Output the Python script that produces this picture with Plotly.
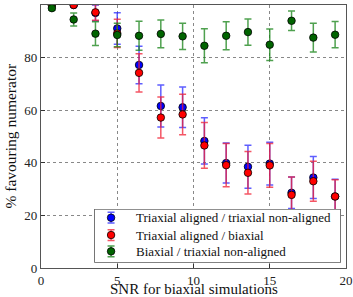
import plotly.graph_objects as go

snr = [0.714, 2.143, 3.571, 5.0, 6.429, 7.857, 9.286, 10.714, 12.143, 13.571, 15.0, 16.429, 17.857, 19.286]

blue_y = [100, 100, 97.0, 91.1, 77.2, 61.6, 61.1, 48.3, 39.9, 38.5, 39.7, 28.6, 34.4, 27.2]
blue_err = [0, 0, 3.0, 6.0, 7.1, 8.0, 7.7, 8.8, 7.6, 8.2, 8.1, 6.0, 8.0, 6.5]

red_y = [100, 100, 97.2, 89.2, 74.2, 57.2, 58.4, 46.6, 39.1, 36.2, 39.0, 27.8, 33.0, 27.2]
red_err = [0, 0, 3.0, 5.4, 7.3, 7.8, 7.7, 8.7, 8.2, 8.1, 8.3, 6.8, 7.6, 6.4]

green_y = [98.8, 94.5, 89.1, 88.6, 88.3, 89.0, 88.1, 84.5, 88.3, 89.7, 84.9, 94.0, 87.6, 88.7]
green_err = [0.8, 2.5, 4.5, 4.5, 5.5, 5.3, 5.0, 6.5, 5.3, 5.0, 6.0, 3.7, 5.5, 5.0]

names = ["Triaxial aligned / triaxial non-aligned",
         "Triaxial aligned / biaxial",
         "Biaxial / triaxial non-aligned"]

x_ticks = [0, 5, 10, 15, 20]
y_ticks = [0, 20, 40, 60, 80, 100]

font_family = "Liberation Serif"

marker_cols = ["#0000ff", "#ff0000", "#006400"]
err_cols = ["rgba(40,40,255,0.75)", "rgba(240,30,50,0.75)", "rgba(20,130,20,0.75)"]

# legend layout (box-normalised positions on a small inset axis)
legend_rows = [0.838, 0.516, 0.212]
legend_marker_x = 0.068
legend_text_x = 0.160
legend_err = 0.10

fig = go.Figure()
for ys, errs, mcol, ecol, nm in zip([blue_y, red_y, green_y],
                                    [blue_err, red_err, green_err],
                                    marker_cols, err_cols, names):
    fig.add_trace(go.Scatter(
        x=snr, y=ys, mode="markers", name=nm, showlegend=False,
        marker=dict(color=mcol, size=7.5, line=dict(color="#000000", width=0.8)),
        error_y=dict(type="data", array=errs, visible=True, color=ecol,
                     thickness=1.5, width=3.5),
    ))

# custom legend on an inset axis
fig.add_trace(go.Scatter(
    x=[0, 1, 1, 0, 0], y=[0, 0, 1, 1, 0], xaxis="x2", yaxis="y2",
    mode="lines", fill="toself", fillcolor="white",
    line=dict(color="#222222", width=1.2), cliponaxis=False,
    showlegend=False, hoverinfo="skip",
))
annotations = []
for i, nm in enumerate(names):
    fig.add_trace(go.Scatter(
        x=[legend_marker_x], y=[legend_rows[i]], xaxis="x2", yaxis="y2",
        mode="markers", showlegend=False, hoverinfo="skip", cliponaxis=False,
        marker=dict(color=marker_cols[i], size=7.5, line=dict(color="#000000", width=0.8)),
        error_y=dict(type="data", array=[legend_err], visible=True,
                     color=err_cols[i], thickness=1.5, width=3.5),
    ))
    annotations.append(dict(
        text=nm, xref="x2", yref="y2", x=legend_text_x, y=legend_rows[i],
        xanchor="left", yanchor="middle", showarrow=False,
        font=dict(family=font_family, size=13, color="#111111")))

annotations += [
    dict(text="SNR for biaxial simulations", xref="paper", yref="paper",
         x=0.5, y=0, xanchor="center", yanchor="middle", yshift=-21,
         showarrow=False, font=dict(family=font_family, size=15, color="#111111")),
    dict(text="% favouring numerator", xref="paper", yref="paper",
         x=0, y=0.5, xanchor="center", yanchor="middle", xshift=-31,
         textangle=-90, showarrow=False,
         font=dict(family=font_family, size=15.5, color="#111111")),
]

axis_common = dict(
    showline=True, linecolor="#555555", linewidth=1.2, mirror=True,
    showgrid=True, gridcolor="#888888", griddash="dot", gridwidth=1,
    zeroline=False, ticks="inside", ticklen=4, tickcolor="#333333",
    tickfont=dict(family=font_family, size=13, color="#222222"),
)

fig.update_layout(
    width=353, height=297,
    margin=dict(l=41, r=7, t=5, b=29, autoexpand=False),
    paper_bgcolor="white", plot_bgcolor="white",
    font=dict(family=font_family, color="#111111"),
    xaxis=dict(range=[0, 20], tickvals=x_ticks, **axis_common),
    yaxis=dict(range=[0, 100], tickvals=y_ticks, **axis_common),
    xaxis2=dict(domain=[0.1748, 0.9826], range=[0, 1], visible=False,
                anchor="y2", fixedrange=True),
    yaxis2=dict(domain=[0.020, 0.2243], range=[0, 1], visible=False,
                anchor="x2", fixedrange=True),
    showlegend=False,
    annotations=annotations,
)

fig.write_html("out.html", config={"displayModeBar": False},
               post_script="document.body.style.margin='0';document.body.style.overflow='hidden';")
